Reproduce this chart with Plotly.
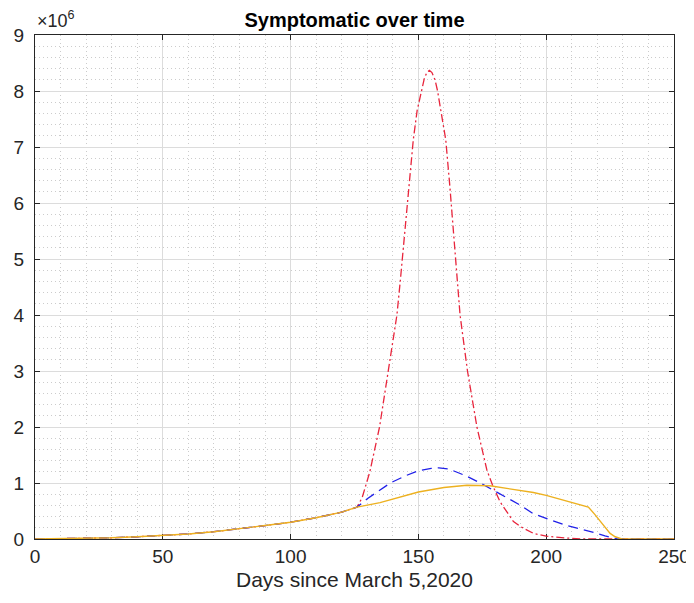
import plotly.graph_objects as go

# Values in millions (axis shows x10^6)
shared_days = [0, 10, 20, 30, 40, 50, 60, 70, 80, 90, 100, 110, 120, 126]
shared_vals = [0, 0.003, 0.01, 0.022, 0.04, 0.062, 0.09, 0.13, 0.18, 0.24, 0.30, 0.38, 0.48, 0.57]

red_days = [128, 131, 134.8, 138.3, 140, 141.6, 143, 144.4, 146, 148, 149.5, 151.3, 152.3, 153.3,
            154.3, 155.3, 156.5, 157.5, 159, 160.7, 162.3, 164, 166.3, 169.2, 172.9, 176.8, 179.1,
            182, 187.2, 190, 195, 200, 205, 210, 215, 250]
red_vals = [0.74, 1.2, 2.0, 3.0, 3.47, 4.0, 4.65, 5.34, 6.1, 7.13, 7.65, 8.05, 8.22, 8.33,
            8.37, 8.33, 8.2, 8.0, 7.62, 7.13, 6.3, 5.34, 4.0, 3.0, 2.0, 1.23, 0.95,
            0.66, 0.31, 0.22, 0.1, 0.05, 0.025, 0.01, 0, 0]

blue_days = [130, 135, 139, 145, 150, 155, 158, 162, 169, 175, 179.4, 186, 190, 195, 200,
             208, 214, 218.5, 223, 227.7, 250]
blue_vals = [0.72, 0.88, 1.0, 1.13, 1.22, 1.26, 1.27, 1.25, 1.12, 0.98, 0.87, 0.70, 0.60, 0.45, 0.37,
             0.24, 0.17, 0.12, 0.055, 0, 0]

orange_days = [135, 139, 145, 150, 160, 169, 178, 182, 190, 195, 200, 208, 216.5,
               219, 221, 223, 225, 227, 229.6, 250]
orange_vals = [0.65, 0.70, 0.78, 0.84, 0.92, 0.96, 0.95, 0.92, 0.87, 0.83, 0.78, 0.68, 0.57,
               0.44, 0.32, 0.2, 0.1, 0.04, 0, 0]

x_ticks = [0, 50, 100, 150, 200, 250]
y_ticks = [0, 1, 2, 3, 4, 5, 6, 7, 8, 9]

# page body has an 8px margin; size the figure so the plot lands where the reference has it
W, H = 686, 587

fig = go.Figure()
fig.add_trace(go.Scatter(x=shared_days + red_days, y=shared_vals + red_vals, mode="lines",
                         line=dict(color="#E8253C", width=1.3, dash="8px,3px,2px,3px"),
                         showlegend=False))
fig.add_trace(go.Scatter(x=shared_days + blue_days, y=shared_vals + blue_vals, mode="lines",
                         line=dict(color="#2020E8", width=1.3, dash="10px,6px"),
                         showlegend=False))
fig.add_trace(go.Scatter(x=shared_days + orange_days, y=shared_vals + orange_vals, mode="lines",
                         line=dict(color="#EDB120", width=1.4),
                         showlegend=False))

axis_common = dict(
    showline=True, linecolor="#262626", linewidth=1, mirror="ticks",
    ticks="inside", ticklen=5, tickcolor="#262626", tickwidth=1,
    showgrid=True, gridcolor="#DCDCDC", gridwidth=1,
    zeroline=False, layer="below traces", automargin=False,
    ticklabeloverflow="allow",
    tickfont=dict(family="Liberation Sans, Arial", size=19, color="#262626"),
)

fig.update_layout(
    width=W, height=H,
    margin=dict(l=27, r=20, t=27, b=56),
    paper_bgcolor="white", plot_bgcolor="white",
    title=dict(text="<b>Symptomatic over time</b>", x=346.5 / W, xanchor="center",
               y=1 - 12 / H, yanchor="middle", yref="container",
               font=dict(family="Liberation Sans, Arial", size=20, color="black")),
    xaxis=dict(range=[0, 250], tickmode="array", tickvals=x_ticks,
               ticktext=[str(v) for v in x_ticks],
               minor=dict(dtick=10, tick0=0, showgrid=True, gridcolor="#CCCCCC",
                          griddash="1px,3px", gridwidth=1, ticks=""),
               title=dict(text="Days since March 5,2020", standoff=6,
                          font=dict(family="Liberation Sans, Arial", size=21, color="#262626")),
               **axis_common),
    yaxis=dict(range=[0, 9], tickmode="array", tickvals=y_ticks,
               ticktext=[str(v) for v in y_ticks], ticklabelstandoff=6,
               minor=dict(dtick=0.2, tick0=0, showgrid=True, gridcolor="#CCCCCC",
                          griddash="1px,3px", gridwidth=1, ticks=""),
               **axis_common),
    annotations=[dict(text="×10<sup>6</sup>", xref="paper", yref="paper", x=0, y=1,
                      xanchor="left", yanchor="bottom", showarrow=False, xshift=0, yshift=2,
                      font=dict(family="Liberation Sans, Arial", size=18, color="#262626"))],
)

fig.write_html("out.html")
